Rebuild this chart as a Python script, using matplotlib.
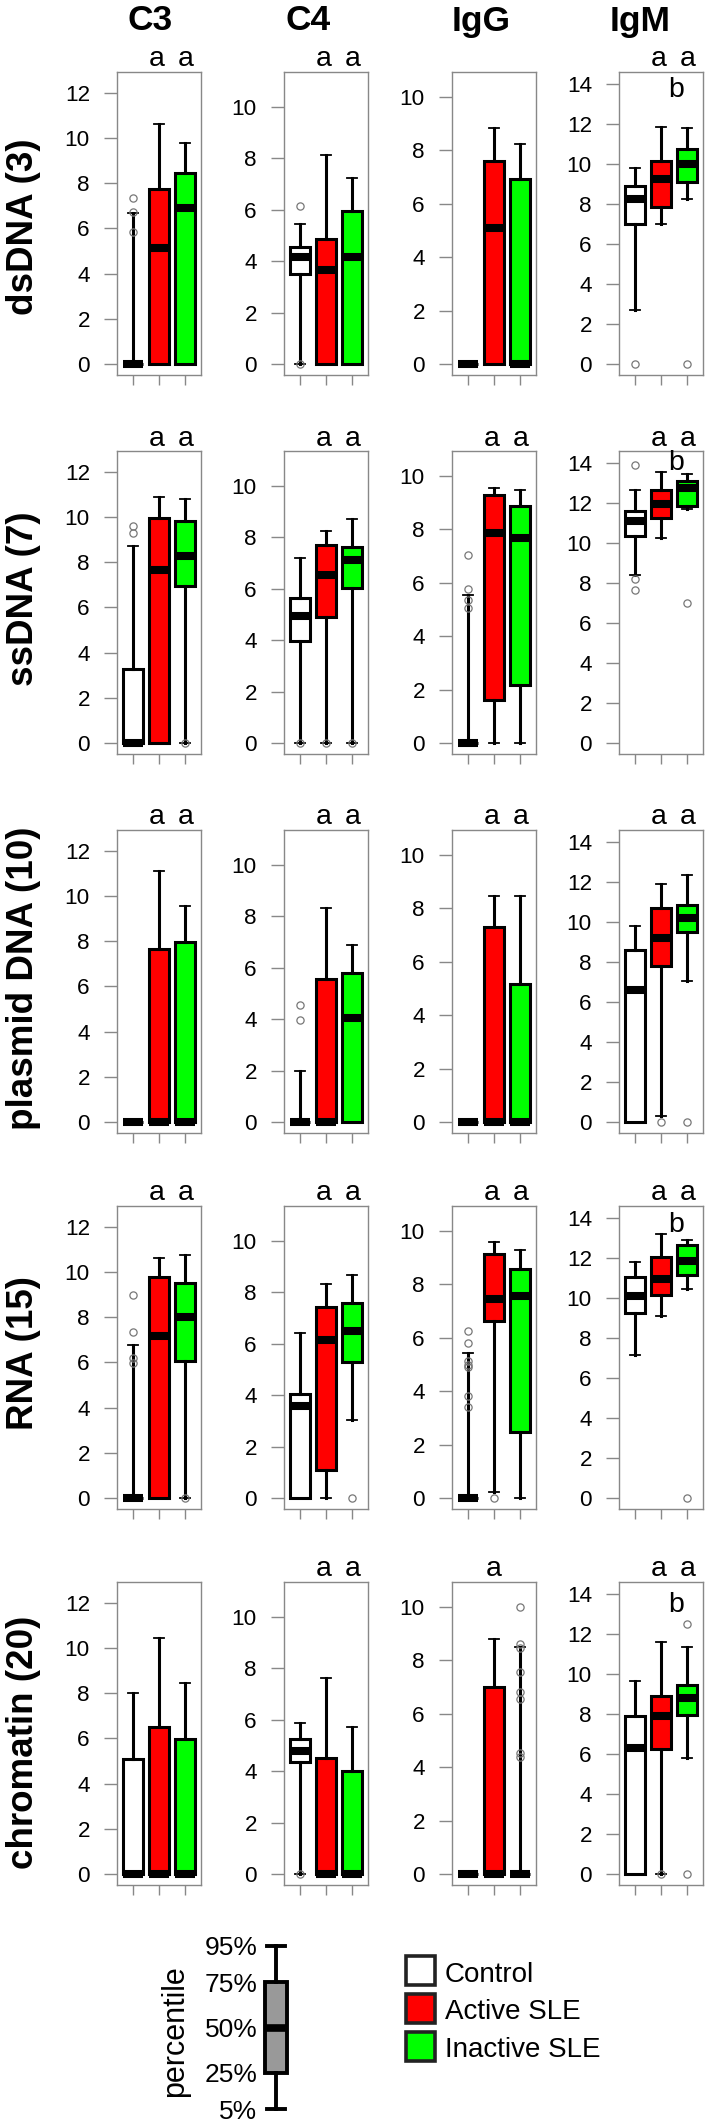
import matplotlib
matplotlib.use('Agg')
import matplotlib.pyplot as plt
from matplotlib.transforms import blended_transform_factory
from matplotlib.patches import Rectangle

plt.rcParams['font.family'] = ['Liberation Sans', 'DejaVu Sans']

# ---------------- data ----------------
antigens = ['dsDNA (3)', 'ssDNA (7)', 'plasmid DNA (10)', 'RNA (15)', 'chromatin (20)']
readouts = ['C3', 'C4', 'IgG', 'IgM']
groups = ['Control', 'Active SLE', 'Inactive SLE']
group_colors = ['#FFFFFF', '#FF0000', '#00FF00']

yticks_C3 = [0, 2, 4, 6, 8, 10, 12]
yticks_C4 = [0, 2, 4, 6, 8, 10]
yticks_IgG = [0, 2, 4, 6, 8, 10]
yticks_IgM = [0, 2, 4, 6, 8, 10, 12, 14]

# per antigen (rows) -> per group: [5%, 25%, 50%, 75%, 95%]
C3_stats = [
    [[0, 0, 0, 0, 6.68], [0, 0, 5.13, 7.74, 10.60], [0, 0, 6.88, 8.43, 9.77]],
    [[0, 0, 0, 3.27, 8.71], [0, 0, 7.65, 9.97, 10.87], [0, 6.93, 8.29, 9.80, 10.78]],
    [[0, 0, 0, 0, 0], [0, 0, 0, 7.67, 11.10], [0, 0, 0, 7.98, 9.54]],
    [[0, 0, 0, 0, 6.78], [0, 0, 7.15, 9.79, 10.60], [0, 6.04, 7.99, 9.51, 10.75]],
    [[0, 0, 0, 5.07, 7.99], [0, 0, 0, 6.52, 10.44], [0, 0, 0, 5.96, 8.43]],
]
C3_fliers = [
    [[7.33, 6.72, 5.82], [], []],
    [[9.61, 9.27], [], [0]],
    [[], [], []],
    [[8.99, 7.33, 6.19, 5.96], [], [0]],
    [[], [], []],
]
C4_stats = [
    [[0, 3.51, 4.16, 4.57, 5.45], [0, 0, 3.64, 4.86, 8.13], [0, 0, 4.15, 5.97, 7.24]],
    [[0, 3.98, 4.94, 5.63, 7.21], [0, 4.92, 6.54, 7.70, 8.24], [0, 6.03, 7.11, 7.63, 8.73]],
    [[0, 0, 0, 0, 1.98], [0, 0, 0, 5.57, 8.34], [0, 0, 4.04, 5.78, 6.90]],
    [[0, 0, 3.59, 4.05, 6.41], [0, 1.09, 6.15, 7.44, 8.31], [3.05, 5.30, 6.51, 7.60, 8.68]],
    [[0, 4.35, 4.79, 5.27, 5.89], [0, 0, 0, 4.52, 7.63], [0, 0, 0, 4.00, 5.71]],
]
C4_fliers = [
    [[6.16, 0], [], []],
    [[0], [0], [0]],
    [[4.57, 3.96], [], []],
    [[], [], [0]],
    [[0], [], []],
]
IgG_stats = [
    [[0, 0, 0, 0, 0], [0, 0, 5.08, 7.62, 8.85], [0, 0, 0, 6.92, 8.26]],
    [[0, 0, 0, 0, 5.55], [0, 1.60, 7.87, 9.31, 9.55], [0, 2.19, 7.69, 8.89, 9.48]],
    [[0, 0, 0, 0, 0], [0, 0, 0, 7.30, 8.47], [0, 0, 0, 5.17, 8.45]],
    [[0, 0, 0, 0, 5.43], [0.21, 6.63, 7.47, 9.13, 9.61], [0, 2.49, 7.55, 8.57, 9.30]],
    [[0, 0, 0, 0, 0], [0, 0, 0, 7.00, 8.80], [0, 0, 0, 0, 8.49]],
]
IgG_fliers = [
    [[], [], []],
    [[7.03, 5.76, 5.35, 5.07], [], []],
    [[], [], []],
    [[6.26, 5.80, 5.12, 5.00, 4.92, 3.84, 3.42], [0], []],
    [[], [], [9.99, 8.63, 8.48, 7.57, 6.83, 6.54, 4.53, 4.39]],
]
IgM_stats = [
    [[2.70, 7.01, 8.27, 8.89, 9.82], [7.02, 7.84, 9.26, 10.15, 11.85], [8.26, 9.12, 10.00, 10.75, 11.79]],
    [[8.42, 10.34, 11.12, 11.59, 12.65], [10.25, 11.27, 11.97, 12.67, 13.57], [11.69, 11.87, 12.74, 13.12, 13.47]],
    [[0, 0, 6.58, 8.60, 9.81], [0.32, 7.78, 9.19, 10.69, 11.89], [7.07, 9.49, 10.18, 10.86, 12.35]],
    [[7.14, 9.26, 10.12, 11.04, 11.80], [9.11, 10.17, 10.94, 12.07, 13.20], [10.44, 11.15, 11.84, 12.64, 12.90]],
    [[0, 0, 6.31, 7.89, 9.67], [0, 6.23, 7.89, 8.92, 11.59], [5.78, 7.94, 8.81, 9.46, 11.35]],
]
IgM_fliers = [
    [[0], [], [0]],
    [[13.92, 8.19, 7.64], [], [7.01]],
    [[], [0], [0]],
    [[], [], [0]],
    [[], [0], [12.52, 0]],
]

# significance letters: groups (1-based) marked "a", and panels with "b"
sig_a = [
    [[2, 3], [2, 3], [], [2, 3]],
    [[2, 3], [2, 3], [2, 3], [2, 3]],
    [[2, 3], [2, 3], [2, 3], [2, 3]],
    [[2, 3], [2, 3], [2, 3], [2, 3]],
    [[], [2, 3], [2], [2, 3]],
]
sig_b = [
    [False, False, False, True],
    [False, False, False, True],
    [False, False, False, False],
    [False, False, False, True],
    [False, False, False, True],
]

percentile_levels = [5, 25, 50, 75, 95]
percentile_labels = ['5%', '25%', '50%', '75%', '95%']

all_stats = {'C3': C3_stats, 'C4': C4_stats, 'IgG': IgG_stats, 'IgM': IgM_stats}
all_fliers = {'C3': C3_fliers, 'C4': C4_fliers, 'IgG': IgG_fliers, 'IgM': IgM_fliers}
all_yticks = {'C3': yticks_C3, 'C4': yticks_C4, 'IgG': yticks_IgG, 'IgM': yticks_IgM}

# ---------------- layout (pixels) ----------------
W, H = 710, 2125
col_left = [117, 284, 452, 619]
row_top = [72, 451, 830, 1206, 1582]
pw, ph = 84, 303
ylims = {'C3': (-0.49, 12.92), 'C4': (-0.43, 11.36), 'IgG': (-0.41, 10.94), 'IgM': (-0.55, 14.6)}
header_x = [150, 308, 481, 640]
rowlabel_y = [227, 599, 978, 1353, 1742]
b_offset_px = [25, 19, 25, 26, 30]

fig = plt.figure(figsize=(W / 100, H / 100), dpi=100)
fig.patch.set_facecolor('white')

GRAY = '#888888'


def px_axes(left, top, w, h):
    return fig.add_axes([left / W, 1 - (top + h) / H, w / W, h / H])


for r, antigen in enumerate(antigens):
    for c, rd in enumerate(readouts):
        ax = px_axes(col_left[c], row_top[r], pw, ph)
        st = all_stats[rd][r]
        fl = all_fliers[rd][r]
        bstats = [dict(whislo=s[0], q1=s[1], med=s[2], q3=s[3], whishi=s[4], fliers=f)
                  for s, f in zip(st, fl)]
        bp = ax.bxp(bstats, positions=[1, 2, 3], widths=0.8, capwidths=0.4,
                    patch_artist=True, showfliers=True,
                    boxprops=dict(linewidth=2.2, edgecolor='black'),
                    medianprops=dict(color='black', linewidth=5.8, solid_capstyle='butt'),
                    whiskerprops=dict(color='black', linewidth=2.2),
                    capprops=dict(color='black', linewidth=1.3),
                    flierprops=dict(marker='o', markerfacecolor='none',
                                    markeredgecolor='#777777', markersize=5.2,
                                    markeredgewidth=0.9))
        for patch, col in zip(bp['boxes'], group_colors):
            patch.set_facecolor(col)
        ax.set_xlim(0.38, 3.62)
        ax.set_ylim(*ylims[rd])
        ax.set_yticks(all_yticks[rd])
        ax.set_yticklabels([str(t) for t in all_yticks[rd]])
        ax.set_xticks([1, 2, 3])
        ax.set_xticklabels(['', '', ''])
        ax.tick_params(axis='y', direction='out', length=9.5, width=1.0, color=GRAY,
                       pad=10.0, labelsize=16.2, labelcolor='black')
        ax.tick_params(axis='x', direction='out', length=7.5, width=1.0, color=GRAY)
        for sp in ax.spines.values():
            sp.set_color(GRAY)
            sp.set_linewidth(1.0)
        trans = blended_transform_factory(ax.transData, ax.transAxes)
        for g in sig_a[r][c]:
            xoff = {2: -0.08, 3: 0.03}[g] if len(sig_a[r][c]) > 1 else 0.0
            ax.text(g + xoff, 1 + 5.5 / ph, 'a', transform=trans, ha='center',
                    va='baseline', fontsize=20.5, clip_on=False)
        if sig_b[r][c]:
            ax.text(2.58, 1 - b_offset_px[r] / ph, 'b', transform=trans, ha='center',
                    va='baseline', fontsize=20.5, clip_on=False)

    fig.text(24 / W, 1 - rowlabel_y[r] / H, antigen, rotation=90, ha='center',
             va='center', fontsize=26.5, fontweight='bold')

for c, rd in enumerate(readouts):
    fig.text(header_x[c] / W, 1 - 21 / H, rd, ha='center', va='center',
             fontsize=25.5, fontweight='bold')

# ---------------- percentile key ----------------
kax = px_axes(258, 1936.6, 36, 181.8)
kax.bxp([dict(whislo=percentile_levels[0], q1=percentile_levels[1],
              med=percentile_levels[2], q3=percentile_levels[3],
              whishi=percentile_levels[4], fliers=[])],
        positions=[1], widths=1.2, capwidths=1.0, patch_artist=True,
        boxprops=dict(linewidth=2.8, edgecolor='black', facecolor='#999999'),
        medianprops=dict(color='black', linewidth=5.5, solid_capstyle='butt'),
        whiskerprops=dict(color='black', linewidth=2.8),
        capprops=dict(color='black', linewidth=2.8))
kax.set_xlim(0, 2)
kax.set_ylim(0, 100)
kax.set_yticks(percentile_levels)
kax.set_yticklabels(percentile_labels)
kax.set_xticks([])
kax.tick_params(axis='y', length=0, pad=0.5, labelsize=19)
for sp in kax.spines.values():
    sp.set_visible(False)
kax.patch.set_alpha(0)
fig.text(175 / W, 1 - 2031 / H, 'percentile', rotation=90, ha='center', va='center',
         fontsize=22)

# ---------------- group legend ----------------
sq = 29
leg_top0 = 1956
leg_step = 37.8
for i, (g, col) in enumerate(zip(groups, group_colors)):
    top = leg_top0 + i * leg_step
    fig.add_artist(Rectangle((406 / W, 1 - (top + sq) / H), sq / W, sq / H,
                             transform=fig.transFigure, facecolor=col,
                             edgecolor='#222222', linewidth=2.6))
    fig.text(445 / W, 1 - (top + sq / 2 + 4) / H, g, ha='left', va='center', fontsize=20)

fig.savefig('out.png', dpi=100, facecolor='white')
